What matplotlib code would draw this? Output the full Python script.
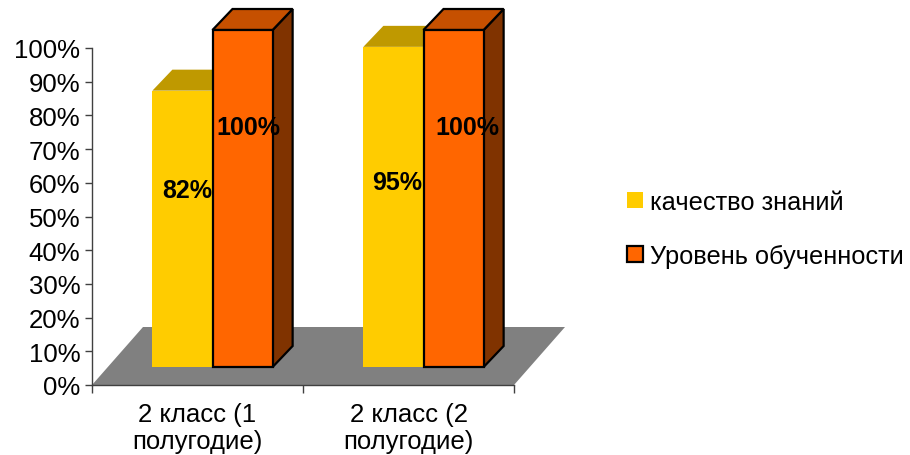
"""Grouped pseudo-3D bar chart: knowledge quality and learning level, grade 2."""

import matplotlib

matplotlib.use("Agg")

import matplotlib.pyplot as plt
from matplotlib.patches import Patch, Polygon
from matplotlib.transforms import Affine2D

categories = ["2 класс (1\nполугодие)", "2 класс (2\nполугодие)"]
series_names = ["качество знаний", "Уровень обученности"]
quality = [82, 95]
level = [100, 100]

# where the value labels sit (percent above bar base)
quality_label_y = [52.5, 54.8]
level_label_y = [71.2, 71.2]
quality_label_dx = [5, 4]
level_label_dx = [6, 14]

BAR_WIDTH = 0.285
BASE_SHIFT = (15, 18)  # px, front face of the bars relative to the axes plane
DEPTH = (20, 21)  # px, depth of the boxes
FLOOR_DEPTH = (51, 58)  # px

FACE = {"yellow": "#FFCC00", "orange": "#FF6600"}
TOP = {"yellow": "#BF9900", "orange": "#C65000"}
SIDE = {"yellow": "#806600", "orange": "#803300"}

plt.rcParams["font.family"] = ["Liberation Sans", "DejaVu Sans"]

W, H = 910, 456
fig = plt.figure(figsize=(W / 100, H / 100), dpi=100)
ax = fig.add_axes([92 / W, (H - 386) / H, (514 - 92) / W, (386 - 49) / H])
ax.set_xlim(-0.5, 1.5)
ax.set_ylim(0, 100)


def shifted(dx, dy):
    return ax.transData + Affine2D().translate(dx, dy)


def draw_floor():
    left, right = ax.transData.transform([(-0.5, 0), (1.5, 0)])
    dx, dy = FLOOR_DEPTH
    pts = [left, right, right + (dx, dy), left + (dx, dy)]
    ax.add_patch(Polygon(pts, closed=True, transform=None, facecolor="#808080",
                         edgecolor="none", clip_on=False, zorder=1))


def draw_box(x0, value, key, outlined, z):
    """One bar: side and top faces in pixels, front face through the data scale."""
    lw = 1.6 if outlined else 0
    edge = "black" if outlined else "none"
    trans = shifted(*BASE_SHIFT)
    bl, br, tr, tl = trans.transform(
        [(x0, 0), (x0 + BAR_WIDTH, 0), (x0 + BAR_WIDTH, value), (x0, value)]
    )
    d = DEPTH
    ax.add_patch(Polygon([br, tr, tr + d, br + d], transform=None, facecolor=SIDE[key],
                         edgecolor=edge, linewidth=lw, clip_on=False, zorder=z))
    ax.add_patch(Polygon([tl, tr, tr + d, tl + d], transform=None, facecolor=TOP[key],
                         edgecolor=edge, linewidth=lw, clip_on=False, zorder=z))
    ax.bar(x0, value, BAR_WIDTH, align="edge", transform=trans, color=FACE[key],
           edgecolor=edge, linewidth=lw, clip_on=False, zorder=z + 0.1)


draw_floor()
for i in range(len(categories)):
    draw_box(i - BAR_WIDTH, quality[i], "yellow", False, 2 + i)
    draw_box(i, level[i], "orange", True, 2.5 + i)
    ax.text(i - BAR_WIDTH / 2, quality_label_y[i], f"{quality[i]}%",
            transform=shifted(BASE_SHIFT[0] + quality_label_dx[i], BASE_SHIFT[1]),
            ha="center", va="center", fontsize=18, fontweight="bold", zorder=10)
    ax.text(i + BAR_WIDTH / 2, level_label_y[i], f"{level[i]}%",
            transform=shifted(BASE_SHIFT[0] + level_label_dx[i], BASE_SHIFT[1]),
            ha="center", va="center", fontsize=18, fontweight="bold", zorder=10)

for side in ("top", "right"):
    ax.spines[side].set_visible(False)
for side in ("left", "bottom"):
    ax.spines[side].set_color("#404040")
    ax.spines[side].set_linewidth(1.0)
    ax.spines[side].set_zorder(5)

ax.set_yticks(range(0, 101, 10))
ax.set_yticklabels([f"{v}%" for v in range(0, 101, 10)], fontsize=18.5)
ax.tick_params(axis="y", length=5, width=1, color="#404040", pad=3.5)
ax.set_xticks([-0.5, 0.5, 1.5])
ax.set_xticklabels([])
ax.tick_params(axis="x", which="major", length=6, width=1, color="#404040")
ax.set_xticks([0, 1], minor=True)
ax.set_xticklabels(categories, minor=True, fontsize=18.5, linespacing=1.2)
ax.tick_params(axis="x", which="minor", length=0, pad=12)

handles = [
    Patch(facecolor=FACE["yellow"], edgecolor="none"),
    Patch(facecolor=FACE["orange"], edgecolor="black", linewidth=1.6),
]
fig.legend(handles, series_names, loc="center left",
           bbox_to_anchor=(627 / W, (H - 230) / H), frameon=False, fontsize=18.3,
           handlelength=0.62, handleheight=0.6, handletextpad=0.28, labelspacing=1.15,
           borderpad=0, borderaxespad=0)

fig.savefig("out.png", dpi=100)
